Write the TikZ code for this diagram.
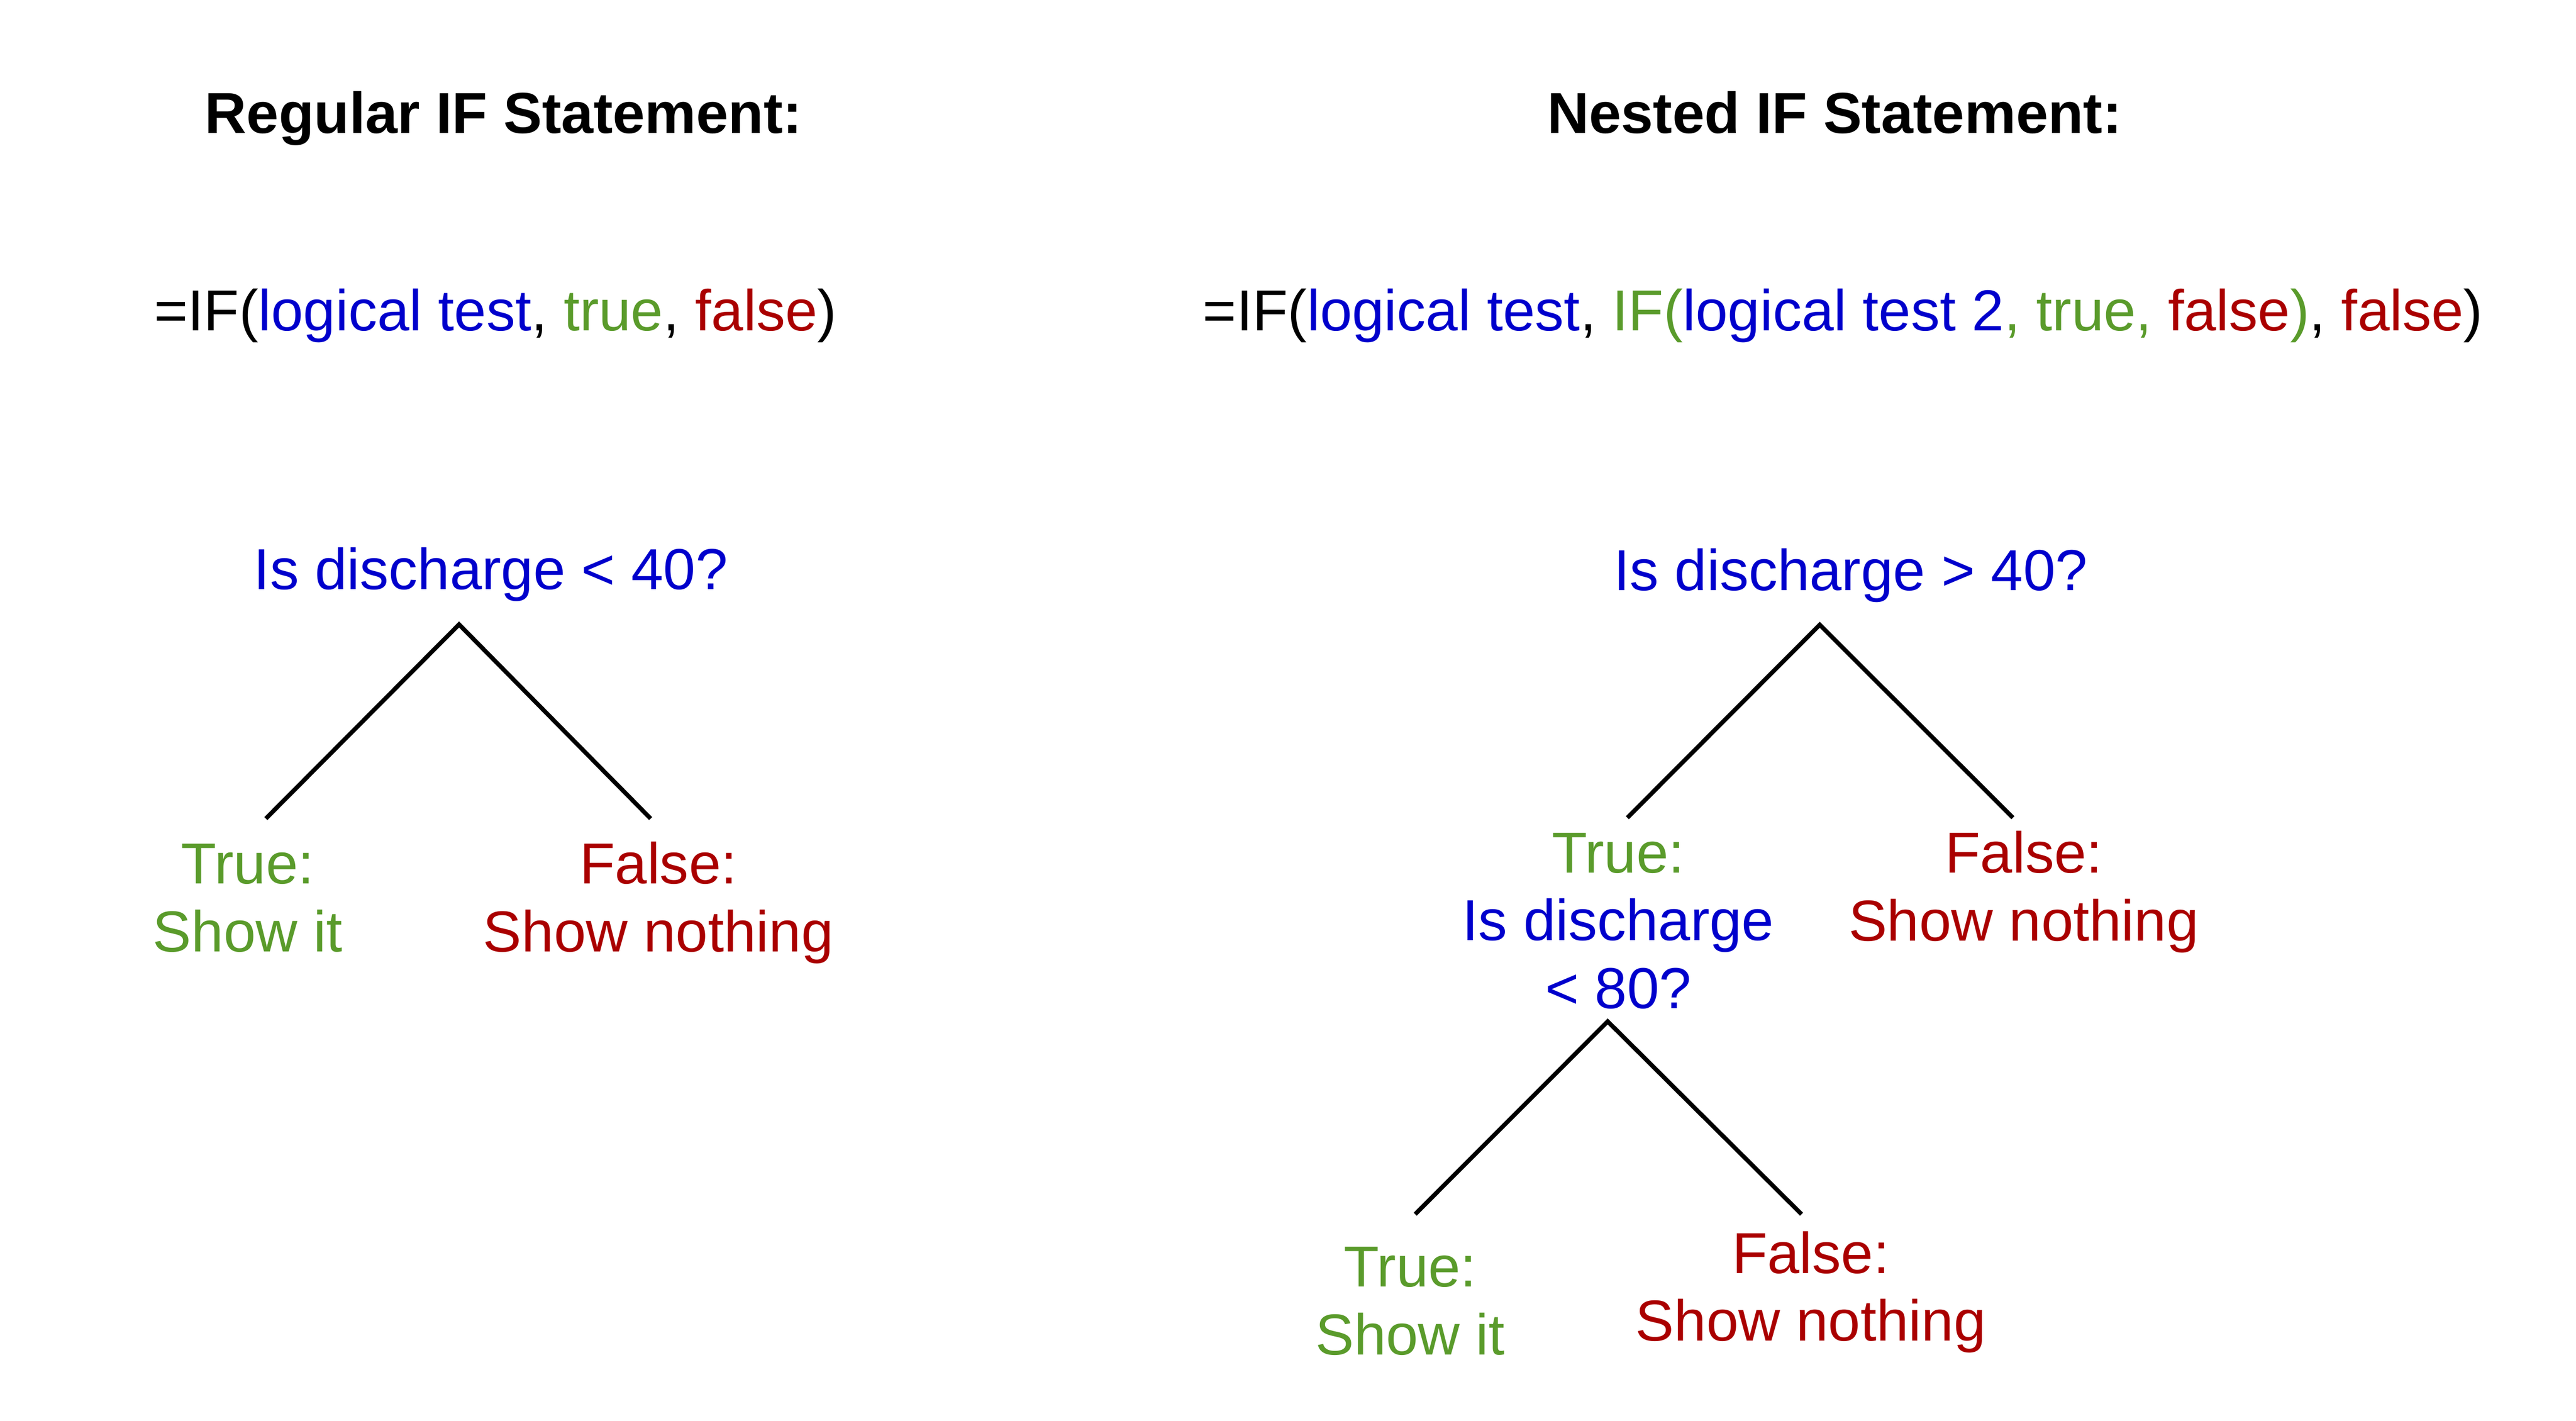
\documentclass[tikz,border=0pt]{standalone}
\usepackage{fontspec}
\setmainfont{Liberation Sans}
\definecolor{testblue}{HTML}{0000CC}
\definecolor{truegreen}{HTML}{5A9B2B}
\definecolor{falsered}{HTML}{AA0000}
\begin{document}
\begin{tikzpicture}[x=1pt,y=-1pt,
  every node/.style={inner sep=0pt,anchor=base,align=center,font=\fontsize{35}{41}\selectfont},
  heading/.style={font=\fontsize{35}{41}\selectfont\bfseries},
  branch/.style={line width=2.6pt}]
\useasboundingbox (0,0) rectangle (1560,860);
% headings and formulas
\node[heading] (regtitle) at (305,80.5) {Regular IF Statement:};
\node[heading] (nesttitle) at (1111,80.5) {Nested IF Statement:};
\node (regformula) at (300,200) {=IF(\textcolor{testblue}{logical test}, \textcolor{truegreen}{true}, \textcolor{falsered}{false})};
\node (nestformula) at (1116,200) {=IF(\textcolor{testblue}{logical test}, \textcolor{truegreen}{IF(}\textcolor{testblue}{logical test 2}\textcolor{truegreen}{, true, }\textcolor{falsered}{false}\textcolor{truegreen}{)}, \textcolor{falsered}{false})};
% regular tree
\node[text=testblue] (regtest) at (297.3,356.7) {Is discharge < 40?};
\coordinate (regfork) at (278,378);
\coordinate (regtrueend) at (161,495.5);
\coordinate (regfalseend) at (394,495.5);
\node[text=truegreen] (regtrue) at (150,576) {True:\\Show it};
\node[text=falsered] (regfalse) at (398.7,576) {False:\\Show nothing};
\draw[branch] (regtrueend) -- (regfork) -- (regfalseend);
% nested tree
\node[text=testblue] (nesttest) at (1120.8,357.5) {Is discharge > 40?};
\coordinate (nestfork) at (1102,378.2);
\coordinate (nesttrueend) at (985.5,495);
\coordinate (nestfalseend) at (1219,495);
\node[text=truegreen] (nesttrue) at (980,610.3) {True:\\{\color{testblue}Is discharge}\\{\color{testblue}< 80?}};
\node[text=falsered] (nestfalse) at (1225.5,569.4) {False:\\Show nothing};
\draw[branch] (nesttrueend) -- (nestfork) -- (nestfalseend);
\coordinate (innerfork) at (973.6,618.3);
\coordinate (innertrueend) at (857,735);
\coordinate (innerfalseend) at (1091,735);
\node[text=truegreen] (innertrue) at (854,820) {True:\\Show it};
\node[text=falsered] (innerfalse) at (1096.6,811.7) {False:\\Show nothing};
\draw[branch] (innertrueend) -- (innerfork) -- (innerfalseend);
\end{tikzpicture}
\end{document}
